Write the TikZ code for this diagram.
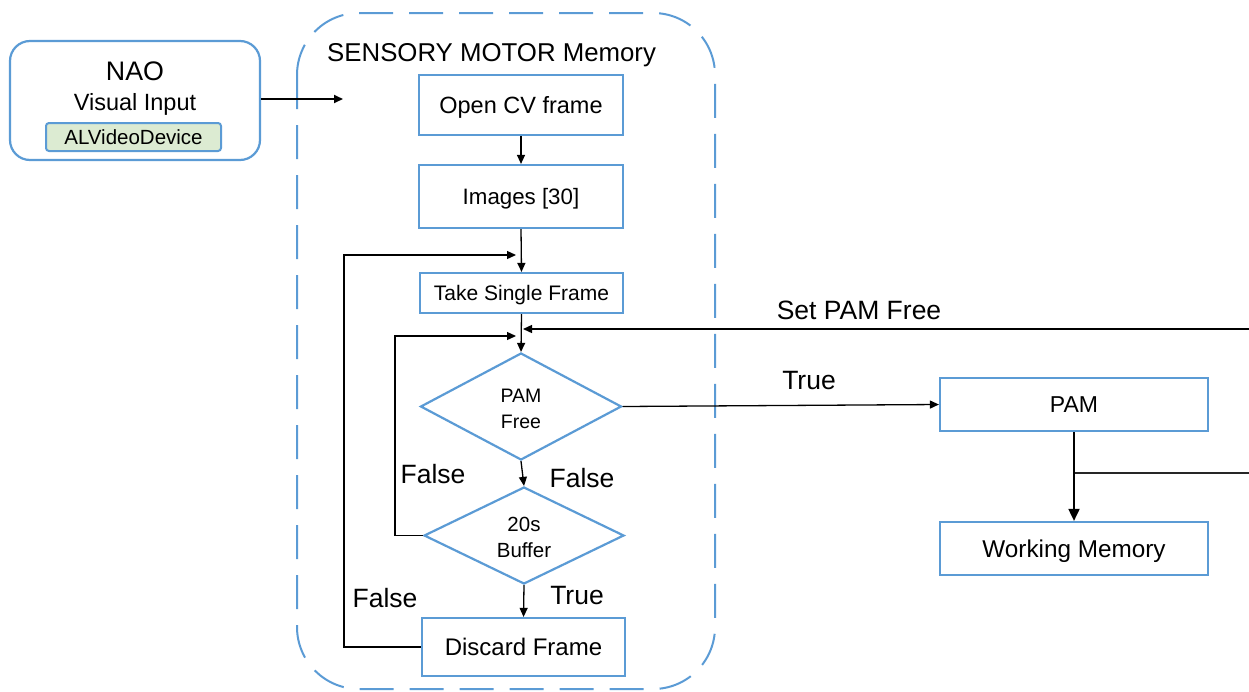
\documentclass[tikz,border=0pt]{standalone}
\usepackage{fontspec}
\setmainfont{Liberation Sans}
\usetikzlibrary{arrows.meta,shapes.geometric}
\definecolor{boxblue}{HTML}{5B9BD5}
\definecolor{devgreen}{HTML}{DCEBD2}
\tikzset{
  box/.style={draw=boxblue, line width=2.2pt, fill=white, inner sep=0pt, align=center, text depth=0pt},
  choice/.style={diamond, draw=boxblue, line width=2.2pt, fill=white, inner sep=0pt, align=center},
  arr/.style={draw=black, line width=1.3pt, -{Triangle[length=9pt,width=8pt]}},
  plainline/.style={draw=black!85, line width=1.3pt},
  lbl/.style={inner sep=0pt, font=\fontsize{26.5}{28}\selectfont}
}
\begin{document}
\begin{tikzpicture}[x=1pt,y=-1pt]
\useasboundingbox (0,0) rectangle (1249,691);

% sensory motor memory container
\draw[boxblue, line width=2pt, dash pattern=on 34pt off 16pt, rounded corners=62pt]
  (297,13) rectangle (715,689);
\node[inner sep=0pt, anchor=west, font=\fontsize{25.8}{28}\selectfont] (smtitle) at (327,55) {SENSORY MOTOR Memory};

% NAO input block
\node[box, rounded corners=20pt, minimum width=250pt, minimum height=119pt] (nao) at (135,100.5) {};
\node[inner sep=0pt, font=\fontsize{26.8}{28}\selectfont] (naotitle) at (135,71) {NAO};
\node[inner sep=0pt, font=\fontsize{23.5}{25}\selectfont] (visual) at (135,104.5) {Visual Input};
\node[draw=boxblue, line width=2pt, fill=devgreen, rounded corners=3pt, minimum width=175pt, minimum height=28pt, inner sep=0pt, font=\fontsize{20.5}{22}\selectfont] (alvd) at (133.5,137) {ALVideoDevice};
\coordinate (inend) at (343,99);
\draw[arr, line width=1.8pt] (nao.east |- inend) -- (inend);

% processing chain
\node[box, minimum width=204pt, minimum height=60pt, font=\fontsize{23.5}{25}\selectfont] (ocv) at (521,105) {Open CV frame};
\node[box, minimum width=204pt, minimum height=63pt, font=\fontsize{22.3}{24}\selectfont] (imgs) at (521,196.5) {Images [30]};
\node[box, minimum width=203pt, minimum height=40pt, font=\fontsize{21}{23}\selectfont] (single) at (521.5,293) {Take Single Frame};
\node[choice, minimum width=201pt, minimum height=107pt, font=\fontsize{19.5}{26}\selectfont] (pamfree) at (521,406.5) {};
\node[inner sep=0pt, align=center, font=\fontsize{19.5}{26}\selectfont] (pamfreetxt) at (521,408.5) {PAM\\Free};
\node[choice, minimum width=200pt, minimum height=97pt, font=\fontsize{20.5}{26}\selectfont] (buffer) at (524,535.5) {};
\node[inner sep=0pt, align=center, font=\fontsize{20.5}{26}\selectfont] (buffertxt) at (524,537) {20s\\Buffer};
\node[box, minimum width=203pt, minimum height=58pt, font=\fontsize{24}{26}\selectfont] (discard) at (523.5,647) {Discard Frame};

% right-hand modules
\node[box, minimum width=268pt, minimum height=53pt, font=\fontsize{23}{25}\selectfont] (pam) at (1074,404.5) {PAM};
\node[box, minimum width=268pt, minimum height=53pt, font=\fontsize{24.3}{26}\selectfont] (wm) at (1074,548.5) {Working Memory};

% straight flow
\draw[arr] (ocv.south) -- (imgs.north);
\draw[arr] (imgs.south) -- (single.north);
\draw[arr] (single.south) -- (pamfree.north);
\draw[arr] (pamfree.south) -- (buffer.north);
\draw[arr] (buffer.south) -- (discard.north);
\draw[arr] (pamfree.east) -- (pam.west);
\draw[arr, line width=1.8pt, -{Triangle[length=12pt,width=11pt]}] (pam.south) -- (wm.north);

% feedback loops
\coordinate (loopa) at (516,255);
\coordinate (loopb) at (516,336);
\draw[arr] (discard.west) -| (344,255) -- (loopa);
\draw[arr] (buffer.west) -| (395,336) -- (loopb);

% signals entering and leaving on the right
\coordinate (setin) at (1249,329);
\coordinate (setend) at (523,329);
\draw[arr] (setin) -- (setend);
\coordinate (branch) at (1075,473);
\coordinate (branchout) at (1249,473);
\draw[plainline] (branch) -- (branchout);

% labels
\node[lbl] (lsetpam) at (859,310) {Set PAM Free};
\node[lbl] (ltrue1) at (809,381) {True};
\node[lbl] (lfalse1) at (433,474) {False};
\node[lbl] (lfalse2) at (582,478) {False};
\node[lbl] (ltrue2) at (577,596) {True};
\node[lbl] (lfalse3) at (385,598) {False};
\end{tikzpicture}
\end{document}
